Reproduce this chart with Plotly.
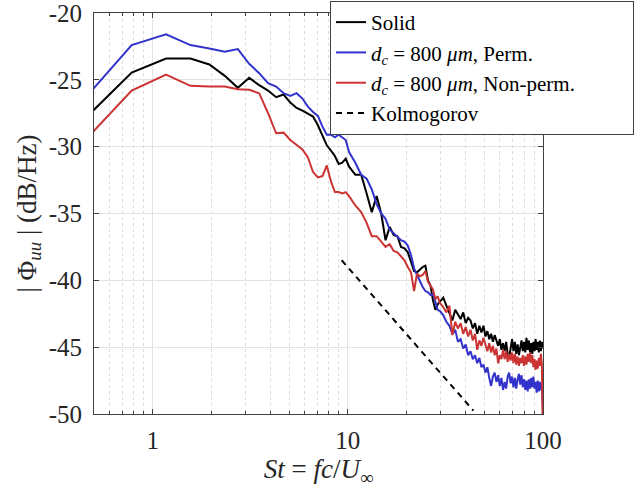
import plotly.graph_objects as go

# Strouhal number grid (frequency bins)
St = [0.39, 0.78, 1.17, 1.56, 1.95, 2.34, 2.73, 3.12, 3.51, 3.90, 4.29, 4.68, 5.07, 5.46, 5.85,
      6.24, 6.63, 7.02, 7.41, 7.80, 8.19, 8.58, 8.97, 9.36, 9.75,
      10.14, 10.92, 11.70, 12.48, 13.26, 14.04, 14.82, 15.60, 16.38, 17.16, 17.94, 18.72, 19.50,
      20.28, 21.06, 21.84, 22.62, 23.40, 24.18, 24.96, 25.74, 26.52, 27.30, 28.08, 28.86, 29.64,
      30.81, 31.98, 33.15, 34.32, 35.49, 36.66, 37.83, 39.00, 40.17, 41.34, 42.51, 43.68, 44.85,
      46.02, 47.19, 48.36, 49.53, 50.70, 51.87, 53.04, 54.21, 55.38, 56.55, 57.72, 58.89, 60.06,
      61.23, 62.40, 63.57, 64.74, 65.91, 67.08, 68.25, 69.42, 70.59, 71.76, 72.93, 74.10, 75.27,
      76.44, 77.61, 78.78, 79.95, 81.12, 82.29, 83.46, 84.63, 85.80, 86.97, 88.14, 89.31, 90.48,
      91.65, 92.82, 93.99, 95.16, 96.33, 97.50, 98.67, 99.84]

solid = [-28.8, -24.45, -23.4, -23.4, -23.85, -24.7, -25.6, -24.85, -25.4, -25.8, -26.3, -26.1,
         -26.7, -27.1, -27.3, -27.5, -27.75, -28.4, -29.2, -29.9, -30.3, -30.7, -31.3, -31.2, -30.9,
         -31.5, -32.1, -32.1, -33.5, -34.9, -33.7, -35.0, -37.0, -36.0, -36.6, -36.7, -37.5, -37.6,
         -37.9, -38.6, -39.3, -39.4, -39.2, -39.0, -38.9, -40.0, -40.4, -41.5, -42.2, -41.8, -41.6,
         -41.3, -41.9, -42.4, -43.0, -42.2, -42.6, -42.9, -42.4, -43.2, -42.8, -43.0, -43.6, -43.2,
         -44.0, -43.4, -43.9, -43.4, -44.2, -43.8, -44.4, -44.0, -44.6, -44.1, -44.5, -44.9, -44.4,
         -45.2, -44.7, -45.3, -44.6, -45.5, -45.8, -44.9, -44.4, -45.3, -44.6, -45.5, -44.8, -45.6,
         -45.0, -44.5, -45.3, -44.6, -45.4, -44.3, -45.2, -44.5, -45.4, -44.7, -45.5, -44.6, -45.3,
         -44.4, -45.2, -44.6, -45.4, -44.5, -45.3, -44.6, -45.1]

perm = [-27.4, -22.4, -21.6, -22.4, -22.65, -22.9, -22.7, -23.8, -24.5, -25.25, -25.5, -26.0,
        -26.2, -26.0, -26.4, -27.0, -27.4, -27.7, -28.5, -29.1, -29.1, -29.3, -29.1, -29.3, -29.5,
        -30.4, -31.2, -32.1, -32.4, -33.2, -34.3, -35.0, -35.4, -36.2, -36.5, -36.8, -37.0, -37.1,
        -37.4, -38.1, -39.1, -39.6, -40.1, -40.5, -40.8, -40.9, -41.1, -41.0, -41.6, -42.2, -42.3,
        -42.6, -43.1, -43.4, -44.0, -43.7, -44.6, -44.4, -45.1, -44.8, -45.6, -45.3, -45.9, -45.6,
        -46.2, -45.8, -46.5, -46.3, -46.9, -46.5, -47.3, -47.9, -47.2, -46.9, -47.6, -47.1, -47.9,
        -47.3, -48.2, -47.6, -48.1, -47.2, -46.9, -47.7, -47.2, -48.0, -47.3, -48.1, -47.4, -47.0,
        -47.8, -47.1, -48.0, -47.4, -48.2, -47.5, -48.3, -47.4, -48.1, -47.3, -48.0, -47.2, -48.1,
        -47.6, -48.4, -47.5, -48.3, -47.6, -48.2, -47.8, -49.5]

nonperm = [-30.5, -25.8, -24.6, -25.45, -25.5, -25.5, -25.7, -25.75, -26.0, -27.5, -29.0, -28.95,
           -29.5, -29.85, -30.2, -30.8, -31.9, -32.3, -32.2, -31.4, -32.6, -33.4, -33.4, -33.5, -33.4,
           -33.7, -34.4, -34.9, -35.7, -36.7, -36.7, -37.1, -37.5, -37.3, -37.8, -37.9, -38.2, -38.5,
           -39.0, -39.4, -40.8, -39.5, -39.7, -39.6, -39.3, -40.1, -40.4, -40.7, -41.4, -41.2, -41.7,
           -42.0, -42.4, -41.9, -44.1, -43.1, -43.6, -43.2, -44.0, -43.5, -44.2, -43.7, -44.5, -44.0,
           -45.2, -44.5, -44.9, -44.3, -44.8, -45.3, -44.7, -45.4, -44.9, -45.6, -45.1, -46.2, -45.6,
           -45.9, -45.2, -45.9, -45.3, -46.1, -45.5, -46.0, -45.4, -46.2, -45.5, -46.3, -45.7, -46.4,
           -45.8, -46.2, -45.6, -46.4, -45.7, -46.3, -45.5, -46.1, -45.4, -46.2, -45.6, -46.5, -45.9,
           -46.7, -46.0, -46.6, -45.8, -46.4, -45.5, -46.3, -52.0]

kolmo_St = [9.3, 44.0]
kolmo_dB = [-38.5, -49.75]

y_ticks = [-50, -45, -40, -35, -30, -25, -20]
y_ticktext = ["-50", "-45", "-40", "-35", "-30", "-25", "-20"]
x_ticks = [1, 10, 100]
x_ticktext = ["1", "10", "100"]
x_minor = [0.5, 0.6, 0.7, 0.8, 0.9, 2, 3, 4, 5, 6, 7, 8, 9,
           20, 30, 40, 50, 60, 70, 80, 90]

FONT = "Liberation Serif"

fig = go.Figure()
fig.add_trace(go.Scatter(x=St, y=solid, mode="lines", name="Solid",
                         line=dict(color="#000000", width=2)))
fig.add_trace(go.Scatter(x=St, y=perm, mode="lines",
                         name="<i>d</i><sub><i>c</i></sub> = 800 <i>μm</i>, Perm.",
                         line=dict(color="#3333CC", width=2)))
fig.add_trace(go.Scatter(x=St, y=nonperm, mode="lines",
                         name="<i>d</i><sub><i>c</i></sub> = 800 <i>μm</i>, Non-perm." + "&nbsp;" * 10,
                         line=dict(color="#CC3333", width=2)))
fig.add_trace(go.Scatter(x=kolmo_St, y=kolmo_dB, mode="lines", name="Kolmogorov",
                         line=dict(color="#000000", width=2, dash="6px,5px")))

axis_common = dict(
    showline=True, linecolor="#404040", linewidth=1, mirror="ticks",
    ticks="inside", tickcolor="#404040", ticklen=5,
    showgrid=True, gridcolor="#e3e3e3", gridwidth=1,
    zeroline=False, automargin=False, ticklabeloverflow="allow",
    tickfont=dict(family=FONT, size=25, color="#262626"),
)

fig.update_xaxes(
    type="log", range=[-0.30103, 2],
    tickmode="array", tickvals=x_ticks, ticktext=x_ticktext,
    minor=dict(tickmode="array", tickvals=x_minor, ticks="inside", ticklen=3,
               tickcolor="#404040", showgrid=True, gridcolor="#dcdcdc", griddash="dot"),
    title=dict(text="<i>St</i> = <i>fc</i>/<i>U</i><sub>∞</sub>",
               font=dict(family=FONT, size=27, color="#262626"), standoff=4),
    ticklabelstandoff=4,
    **axis_common,
)
fig.update_yaxes(
    range=[-50, -20],
    tickmode="array", tickvals=y_ticks, ticktext=y_ticktext,
    title=dict(text="| Φ<sub><i>uu</i></sub> | (dB/Hz)",
               font=dict(family=FONT, size=27, color="#262626"), standoff=4),
    ticklabelstandoff=6,
    **axis_common,
)

fig.update_layout(
    width=636, height=492,
    margin=dict(l=94, r=93, t=13, b=78, autoexpand=False),
    paper_bgcolor="white", plot_bgcolor="white",
    font=dict(family=FONT, color="#000000"),
    showlegend=True,
    legend=dict(x=0.5256, y=1.03, xanchor="left", yanchor="top",
                bgcolor="white", bordercolor="#404040", borderwidth=1,
                font=dict(family=FONT, size=21, color="#000000"),
                tracegroupgap=0, itemwidth=30),
)

fig.write_html("out.html", config={"displayModeBar": False},
               post_script="document.body.style.margin='0px';document.body.style.overflow='hidden';")
